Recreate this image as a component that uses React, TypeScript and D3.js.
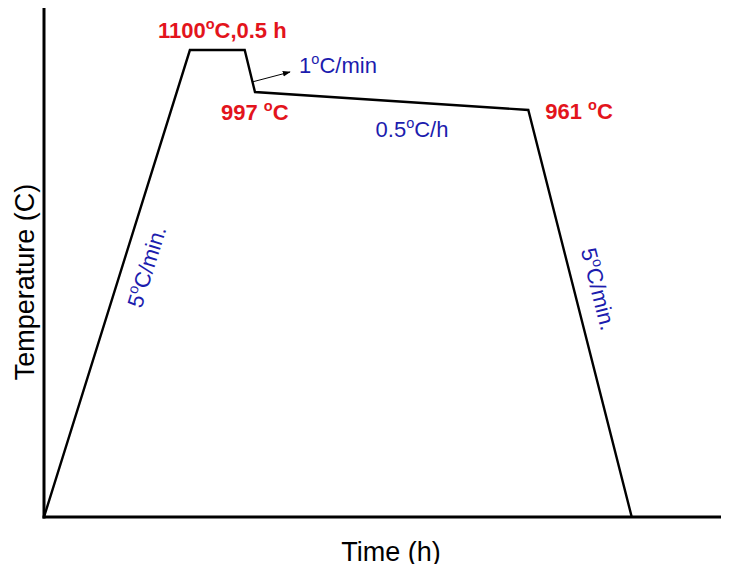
import * as d3 from 'd3'
import { useEffect, useRef } from 'react'

// schematic profile (time and temperature levels are not to scale)
const times = [0, 21.3, 29.3, 30.8, 70.7, 85.8]
const levels = [0, 91.2, 91.2, 83.0, 79.5, 0]
const pointLabels = ['1100°C,0.5 h', '997 °C', '961 °C']
const rateLabels = ['5°C/min.', '1°C/min', '0.5°C/h', '5°C/min.']

export default function App() {
    const svgRef = useRef<SVGSVGElement>(null)
    const width = 729
    const height = 572

    useEffect(() => {
        if (!svgRef.current) return
        const svg = d3.select(svgRef.current)
        svg.selectAll('*').remove()

        const x0 = 44
        const y0 = 517
        const x = d3.scaleLinear().domain([0, 100]).range([x0, 729])
        const y = d3.scaleLinear().domain([0, 100]).range([y0, 5])

        const font = "'Liberation Sans', Arial, sans-serif"
        const red = '#e3141c'
        const blue = '#1c1cae'

        // writes a label with the degree sign as a superscript "o"
        const withDegree = (t: d3.Selection<SVGTextElement, unknown, null, undefined>, s: string) => {
            const parts = s.split('°')
            parts.forEach((p, i) => {
                if (i > 0) {
                    t.append('tspan').attr('font-size', '0.66em').attr('dy', '-0.6em').text('o')
                    t.append('tspan').attr('dy', '0.396em').text(p)
                } else {
                    t.append('tspan').text(p)
                }
            })
            return t
        }

        // axes
        svg.append('line').attr('x1', x0).attr('x2', x0).attr('y1', y(100)).attr('y2', y0 + 1.5)
            .attr('stroke', '#000').attr('stroke-width', 3)
        svg.append('line').attr('x1', x0 - 1.5).attr('x2', x(100)).attr('y1', y0).attr('y2', y0)
            .attr('stroke', '#000').attr('stroke-width', 3)

        const pts = times.map((t, i) => [t, levels[i]] as [number, number])
        const line = d3.line<[number, number]>().x((d) => x(d[0])).y((d) => y(d[1]))
        svg.append('path').attr('d', line(pts)).attr('fill', 'none')
            .attr('stroke', '#000').attr('stroke-width', 2.4).attr('stroke-linejoin', 'miter')

        // axis titles
        svg.append('text').attr('x', 391).attr('y', 561).attr('text-anchor', 'middle')
            .attr('font-family', font).attr('font-size', 27).text('Time (h)')
        svg.append('text').attr('transform', `translate(34,282) rotate(-90)`).attr('text-anchor', 'middle')
            .attr('font-family', font).attr('font-size', 27).text('Temperature (C)')

        // point labels
        const bold = (tx: number, ty: number, s: string) =>
            withDegree(svg.append('text').attr('x', tx).attr('y', ty).attr('font-family', font)
                .attr('font-weight', 'bold').attr('font-size', 22).attr('fill', red), s)
        bold(x(times[1]) - 32, y(levels[1]) - 12, pointLabels[0])
        bold(x(times[3]) - 34, y(levels[3]) + 28, pointLabels[1])
        bold(x(times[4]) + 17, y(levels[4]) + 9, pointLabels[2])

        const reg = (tx: number, ty: number, s: string, angle = 0) =>
            withDegree(svg.append('text').attr('transform', `translate(${tx},${ty}) rotate(${angle})`)
                .attr('text-anchor', 'middle').attr('font-family', font)
                .attr('font-size', 22).attr('fill', blue), s)

        // rotated rate labels along ramps
        const a1 = (Math.atan2(y(levels[1]) - y(levels[0]), x(times[1]) - x(times[0])) * 180) / Math.PI
        const a2 = (Math.atan2(y(levels[5]) - y(levels[4]), x(times[5]) - x(times[4])) * 180) / Math.PI
        reg(154, 269, rateLabels[0], a1)
        reg(591, 291, rateLabels[3], a2)
        reg(338, 73, rateLabels[1])
        reg(412, 137, rateLabels[2])

        // arrow for 1°C/min
        const defs = svg.append('defs')
        defs.append('marker').attr('id', 'ah').attr('viewBox', '0 0 10 10').attr('refX', 9).attr('refY', 5)
            .attr('markerWidth', 8).attr('markerHeight', 8).attr('orient', 'auto')
            .append('path').attr('d', 'M0,1.5 L10,5 L0,8.5 Z').attr('fill', '#000')
        svg.append('line').attr('x1', 252).attr('y1', 82).attr('x2', 290).attr('y2', 72)
            .attr('stroke', '#000').attr('stroke-width', 1).attr('marker-end', 'url(#ah)')
    }, [])

    return <svg ref={svgRef} width={width} height={height} style={{ display: 'block', margin: -8 }} />
}
